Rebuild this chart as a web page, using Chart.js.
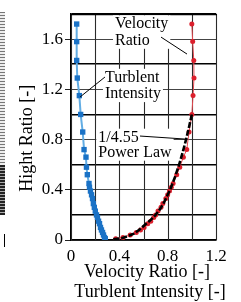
<!DOCTYPE html>
<html>
<head>
<meta charset="utf-8">
<script src="https://cdn.jsdelivr.net/npm/chart.js@4.4.1/dist/chart.umd.min.js"></script>
<style>
  html, body { margin: 0; padding: 0; background: #fff; }
  #wrap { position: relative; width: 241px; height: 302px; }
  /* cropped edge of the neighbouring figure */
  #strip { position: absolute; left: 0; top: 12px; width: 5px; height: 153px;
    background: repeating-linear-gradient(to bottom, #777 0 1px, #eee 1px 3px); }
  #strip2 { position: absolute; left: 0; top: 165px; width: 5px; height: 50px;
    background: repeating-linear-gradient(to bottom, #222 0 2px, #aaa 2px 3px); }
  #arrow { position: absolute; left: 4px; top: 234px; width: 1px; height: 13px; background: #000; }
</style>
</head>
<body>
<div id="wrap">
  <div id="strip"></div><div id="strip2"></div><div id="arrow"></div>
  <canvas id="c"></canvas>
</div>
<script>
// measurement heights (shared by both profiles)
const heights = [1.72, 1.58, 1.43, 1.29, 1.15, 1.00, 0.86, 0.72, 0.66, 0.58, 0.52, 0.45, 0.42, 0.39, 0.36,
  0.33, 0.29, 0.26, 0.23, 0.20, 0.18, 0.15, 0.13, 0.10, 0.08, 0.06, 0.04, 0.02, 0.01];
const velocity = [1.00, 1.007, 1.016, 1.018, 1.01, 1.00, 0.977, 0.958, 0.93, 0.90, 0.875, 0.845, 0.83, 0.815, 0.80,
  0.785, 0.76, 0.745, 0.72, 0.70, 0.685, 0.66, 0.635, 0.605, 0.575, 0.54, 0.49, 0.43, 0.37];
const intensity = [0.047, 0.047, 0.047, 0.052, 0.069, 0.080, 0.097, 0.108, 0.124, 0.128, 0.135, 0.149, 0.153, 0.161, 0.170,
  0.178, 0.185, 0.193, 0.201, 0.211, 0.219, 0.228, 0.236, 0.244, 0.252, 0.261, 0.269, 0.277, 0.284];

// 1/4.55 power law curve
const powerY = [0.005, 0.015, 0.03, 0.05, 0.085, 0.12, 0.16, 0.20, 0.25, 0.30, 0.40, 0.50, 0.60, 0.70, 0.80, 0.90, 1.00];
const powerX = [0.35, 0.42, 0.47, 0.52, 0.57, 0.61, 0.66, 0.70, 0.74, 0.77, 0.82, 0.86, 0.895, 0.925, 0.952, 0.977, 1.00];

const xTickLabels = { 0: '0', 4: '0.4', 8: '0.8', 12: '1.2' };
const yTickLabels = { 0: '0', 4: '0.4', 8: '0.8', 12: '1.2', 16: '1.6' };
const xTitle = ['Velocity Ratio [-]', 'Turblent Intensity [-]'];
const yTitle = 'Hight Ratio [-]';

const serif = "'Liberation Serif', 'Times New Roman', serif";
const tenth = v => Math.round(v * 10);
const darkLine = v => tenth(v) % 4 === 2 || tenth(v) === 18;

const notes = [
  { lines: ['Velocity', 'Ratio'], x: 0.364, y: 1.686, gap: 16.5, from: [0.745, 1.616], to: [0.960, 1.481] },
  { lines: ['Turblent', 'Intensity'], x: 0.281, y: 1.260, gap: 16.3, from: [0.281, 1.298], to: [0.075, 1.139] },
  { lines: ['1/4.55', 'Power Law'], x: 0.226, y: 0.783, gap: 15, from: [0.571, 0.828], to: [0.944, 0.804] }
];

const notePlugin = {
  id: 'notes',
  beforeDatasetsDraw(chart) {
    const { ctx, chartArea: a, scales: { x, y } } = chart;
    ctx.save();
    // vertical grid lines and the top frame, from the scales' own ticks
    ctx.strokeStyle = '#2a2a2a';
    ctx.lineWidth = 1.1;
    x.ticks.forEach(t => {
      const px = Math.round(x.getPixelForValue(t.value)) + 0.5;
      ctx.beginPath();
      ctx.moveTo(px, a.top);
      ctx.lineTo(px, a.bottom);
      ctx.stroke();
    });
    ctx.strokeStyle = '#000';
    ctx.lineWidth = 1.6;
    ctx.beginPath();
    ctx.moveTo(a.left, Math.round(y.getPixelForValue(y.max)) + 0.5);
    ctx.lineTo(a.right + 1, Math.round(y.getPixelForValue(y.max)) + 0.5);
    ctx.stroke();
    // white boxes behind the callouts
    ctx.font = '16px ' + serif;
    notes.forEach(n => {
      const w = Math.max(...n.lines.map(t => ctx.measureText(t).width));
      const px = x.getPixelForValue(n.x), py = y.getPixelForValue(n.y);
      ctx.fillStyle = '#fff';
      ctx.fillRect(px - 2, py - 13, w + 4, 13 + n.gap * (n.lines.length - 1) + 4);
    });
    ctx.restore();
  },
  afterDatasetsDraw(chart) {
    const { ctx, scales: { x, y } } = chart;
    ctx.save();
    ctx.font = '16px ' + serif;
    ctx.fillStyle = '#000';
    ctx.textBaseline = 'alphabetic';
    notes.forEach(n => {
      const px = x.getPixelForValue(n.x), py = y.getPixelForValue(n.y);
      n.lines.forEach((t, i) => ctx.fillText(t, px, py + i * n.gap));
      ctx.beginPath();
      ctx.strokeStyle = '#000';
      ctx.lineWidth = 1;
      ctx.moveTo(x.getPixelForValue(n.from[0]), y.getPixelForValue(n.from[1]));
      ctx.lineTo(x.getPixelForValue(n.to[0]), y.getPixelForValue(n.to[1]));
      ctx.stroke();
    });
    ctx.restore();
  },
  // two-line x axis title, drawn here so it is not squeezed to the axis width
  afterDraw(chart) {
    const { ctx, chartArea: a } = chart;
    const cx = (a.left + a.right) / 2;
    ctx.save();
    ctx.font = '18px ' + serif;
    ctx.fillStyle = '#000';
    ctx.textAlign = 'center';
    ctx.textBaseline = 'middle';
    ctx.fillText(xTitle[0], cx + 3.5, a.bottom + 32);
    ctx.fillText(xTitle[1], cx + 6.5, a.bottom + 52);
    ctx.restore();
  }
};

new Chart(document.getElementById('c'), {
  type: 'scatter',
  data: {
    datasets: [
      {
        label: '1/4.55 Power Law',
        data: powerX.map((v, i) => ({ x: v, y: powerY[i] })),
        showLine: true,
        borderColor: '#000',
        borderWidth: 2.6,
        borderDash: [6, 2],
        pointRadius: 0,
        order: 0
      },
      {
        label: 'Velocity Ratio',
        data: velocity.map((v, i) => ({ x: v, y: heights[i] })),
        showLine: true,
        borderColor: '#e5484f',
        borderWidth: 1,
        backgroundColor: '#dc1f2c',
        pointBorderWidth: 0,
        pointRadius: 2.5,
        order: 1
      },
      {
        label: 'Turblent Intensity',
        data: intensity.map((v, i) => ({ x: v, y: heights[i] })),
        showLine: true,
        borderColor: '#62ade4',
        borderWidth: 2,
        backgroundColor: '#1a72c6',
        pointBorderWidth: 0,
        pointStyle: 'rect',
        pointRadius: 3.8,
        order: 2
      }
    ]
  },
  options: {
    responsive: true,
    maintainAspectRatio: false,
    animation: false,
    layout: { padding: { top: 14, right: 25, bottom: 0, left: 0 } },
    plugins: { legend: { display: false }, tooltip: { enabled: false } },
    scales: {
      x: {
        type: 'linear', min: 0, max: 1.2,
        afterFit(s) { s.height = 62; },
        border: { color: '#000', width: 1.5 },
        grid: { display: false, drawTicks: false },
        ticks: {
          stepSize: 0.2, padding: 6, color: '#000', maxRotation: 0, autoSkip: false,
          font: { family: serif, size: 17 },
          callback: v => xTickLabels[tenth(v)] ?? ''
        },
        title: { display: false }
      },
      y: {
        type: 'linear', min: 0, max: 1.8,
        afterFit(s) { s.width = 71; },
        border: { color: '#000', width: 1.5 },
        grid: {
          tickLength: 6,
          color: c => darkLine(c.tick.value) ? '#000' : '#444',
          lineWidth: c => darkLine(c.tick.value) ? 1.6 : 1,
          tickColor: c => yTickLabels[tenth(c.tick.value)] !== undefined ? '#222' : 'rgba(0,0,0,0)'
        },
        ticks: {
          stepSize: 0.2, padding: 2, color: '#000', autoSkip: false,
          font: { family: serif, size: 17 },
          callback: v => yTickLabels[tenth(v)] ?? ''
        },
        title: {
          display: true,
          text: yTitle + '\u00a0\u00a0\u00a0\u00a0\u00a0',
          color: '#000',
          font: { family: serif, size: 18, lineHeight: 1.11 },
          padding: { top: 17, bottom: 0 }
        }
      }
    }
  },
  plugins: [notePlugin]
});
</script>
</body>
</html>
